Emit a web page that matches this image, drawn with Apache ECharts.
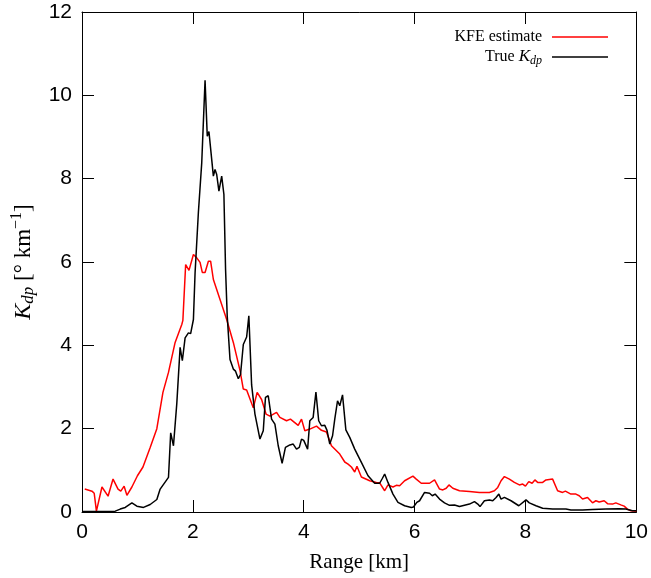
<!DOCTYPE html>
<html>
<head>
<meta charset="utf-8">
<script src="https://cdn.jsdelivr.net/npm/echarts@6/dist/echarts.min.js"></script>
<style>html,body{margin:0;padding:0;background:#fff}#c{width:651px;height:578px}</style>
</head>
<body>
<div id="c"></div>
<script>
var xTicks = [0, 2, 4, 6, 8, 10];
var yTicks = [0, 2, 4, 6, 8, 10, 12];

var kfeRange = [0.05,0.18,0.22,0.26,0.36,0.47,0.56,0.65,0.70,0.76,0.81,0.9,1.0,1.1,1.23,1.35,1.46,1.56,1.68,1.80,1.82,1.87,1.93,2.01,2.07,2.13,2.17,2.22,2.28,2.32,2.37,2.49,2.61,2.73,2.85,2.91,2.97,3.09,3.16,3.24,3.32,3.39,3.51,3.57,3.69,3.76,3.90,3.96,4.02,4.11,4.23,4.32,4.41,4.50,4.65,4.74,4.80,4.86,4.92,4.96,5.04,5.19,5.31,5.37,5.46,5.52,5.61,5.67,5.73,5.82,5.97,6.03,6.12,6.27,6.36,6.45,6.51,6.57,6.62,6.69,6.81,6.99,7.17,7.35,7.44,7.50,7.56,7.62,7.71,7.80,7.89,7.95,8.0,8.06,8.12,8.17,8.22,8.31,8.37,8.49,8.58,8.67,8.72,8.82,8.91,8.97,9.03,9.12,9.21,9.27,9.33,9.42,9.48,9.57,9.63,9.72,9.78,9.84,9.90,10.0];
var kfeValues = [0.55,0.5,0.45,0.02,0.6,0.38,0.79,0.55,0.5,0.62,0.4,0.6,0.87,1.08,1.55,2.0,2.87,3.35,4.07,4.5,4.6,5.94,5.8,6.18,6.1,5.99,5.75,5.75,6.02,6.02,5.58,5.1,4.62,4.07,3.4,2.95,2.93,2.5,2.87,2.7,2.35,2.3,2.39,2.27,2.19,2.23,2.08,2.23,1.95,1.99,2.06,1.96,1.92,1.59,1.39,1.2,1.15,1.08,0.96,1.1,0.84,0.75,0.71,0.7,0.51,0.65,0.6,0.64,0.63,0.75,0.86,0.79,0.69,0.69,0.77,0.55,0.53,0.57,0.65,0.57,0.51,0.49,0.47,0.47,0.51,0.59,0.75,0.85,0.79,0.71,0.65,0.67,0.62,0.73,0.69,0.77,0.71,0.71,0.77,0.79,0.51,0.47,0.5,0.43,0.43,0.39,0.31,0.35,0.22,0.27,0.24,0.27,0.2,0.19,0.22,0.17,0.14,0.07,0.03,0.02];

var trueRange = [0.0,0.36,0.6,0.69,0.78,0.9,0.99,1.11,1.23,1.35,1.41,1.56,1.60,1.65,1.71,1.77,1.81,1.86,1.92,1.96,2.01,2.04,2.10,2.16,2.22,2.26,2.29,2.32,2.37,2.40,2.43,2.47,2.52,2.56,2.59,2.62,2.67,2.73,2.77,2.82,2.86,2.91,2.97,3.01,3.06,3.12,3.21,3.27,3.31,3.36,3.42,3.48,3.54,3.61,3.67,3.75,3.81,3.87,3.92,3.96,4.0,4.07,4.11,4.17,4.22,4.27,4.32,4.38,4.42,4.47,4.52,4.56,4.61,4.65,4.70,4.76,4.83,4.92,5.04,5.16,5.28,5.37,5.42,5.46,5.52,5.61,5.70,5.82,5.94,5.98,6.04,6.09,6.18,6.27,6.32,6.37,6.45,6.54,6.63,6.72,6.81,6.90,6.99,7.08,7.14,7.18,7.26,7.35,7.41,7.47,7.52,7.56,7.62,7.74,7.88,8.01,8.07,8.19,8.31,8.49,8.73,8.82,9.03,9.21,9.45,9.69,9.81,9.93,10.0];
var trueValues = [0.01,0.01,0.02,0.07,0.11,0.22,0.14,0.11,0.18,0.3,0.55,0.83,1.9,1.59,2.6,3.95,3.63,4.18,4.3,4.28,4.62,5.74,7.2,8.38,10.36,9.02,9.13,9.1,8.06,8.22,8.1,7.7,8.06,7.62,5.82,4.7,3.66,3.43,3.38,3.2,3.3,4.02,4.2,4.71,3.05,2.35,1.75,1.95,2.75,2.79,2.23,2.11,1.59,1.17,1.55,1.61,1.63,1.51,1.55,1.75,1.72,1.51,2.19,2.27,2.88,2.19,2.07,2.08,1.96,1.63,1.83,2.23,2.67,2.55,2.81,1.97,1.79,1.51,1.19,0.87,0.69,0.69,0.81,0.91,0.71,0.43,0.23,0.15,0.11,0.12,0.23,0.27,0.47,0.45,0.39,0.43,0.31,0.22,0.16,0.17,0.13,0.16,0.19,0.25,0.19,0.13,0.27,0.29,0.27,0.35,0.43,0.31,0.35,0.27,0.15,0.29,0.22,0.15,0.09,0.07,0.07,0.05,0.05,0.06,0.07,0.08,0.07,0.03,0.03];

function pairs(xs, ys) { return xs.map(function (x, i) { return [x, ys[i]]; }); }

var serif = 'Liberation Serif';
var sans = 'Liberation Sans';

var chart = echarts.init(document.getElementById('c'), null, {renderer: 'canvas'});

function axisBase(extra) {
  var o = {
    type: 'value',
    axisLine: {show: true, onZero: false, lineStyle: {color: '#000', width: 1}},
    axisTick: {show: true, inside: true, length: 12, lineStyle: {color: '#000', width: 1}},
    splitLine: {show: false},
    axisLabel: {show: true, color: '#000', fontFamily: sans, fontSize: 21, margin: 10}
  };
  for (var k in extra) o[k] = extra[k];
  return o;
}

var option = {
  animation: false,
  backgroundColor: '#fff',
  grid: {left: 82, right: 14, top: 12, bottom: 65, containLabel: false},
  xAxis: [
    axisBase({min: xTicks[0], max: xTicks[xTicks.length - 1], interval: 2, position: 'bottom',
      name: 'Range [km]', nameLocation: 'middle', nameGap: 40,
      nameTextStyle: {fontFamily: serif, fontSize: 21, color: '#000'}}),
    axisBase({min: xTicks[0], max: xTicks[xTicks.length - 1], interval: 2, position: 'top',
      axisLabel: {show: false}})
  ],
  yAxis: [
    axisBase({min: yTicks[0], max: yTicks[yTicks.length - 1], interval: 2, position: 'left',
      name: '{k|K}{s|dp}{t| [° km}{p|−1}{t|]}', nameLocation: 'middle', nameGap: 44, nameRotate: 90,
      nameTextStyle: {
        color: '#000', fontFamily: serif, fontSize: 23,
        rich: {
          k: {fontFamily: serif, fontStyle: 'italic', fontSize: 24, color: '#000'},
          s: {fontFamily: serif, fontStyle: 'italic', fontSize: 17, color: '#000', padding: [11, 0, 0, 0]},
          t: {fontFamily: serif, fontSize: 23, color: '#000'},
          p: {fontFamily: serif, fontSize: 16, color: '#000', padding: [0, 0, 13, 0]}
        }
      }}),
    axisBase({min: yTicks[0], max: yTicks[yTicks.length - 1], interval: 2, position: 'right',
      axisLabel: {show: false}})
  ],
  legend: [
    {
      data: ['KFE estimate'], right: 38, top: 22, align: 'right', orient: 'vertical',
      icon: 'rect', itemWidth: 56, itemHeight: 1.5,
      textStyle: {fontFamily: serif, fontSize: 16, color: '#000', lineHeight: 20, padding: [0, 5, 0, 0]}
    },
    {
      data: ['True Kdp'], right: 38, top: 42, align: 'right', orient: 'vertical',
      icon: 'rect', itemWidth: 56, itemHeight: 1.5,
      formatter: function () { return '{r|True }{k|K}{s|dp}'; },
      textStyle: {
        fontFamily: serif, fontSize: 16, color: '#000', lineHeight: 20, padding: [0, 5, 0, 0],
        rich: {
          r: {fontFamily: serif, fontSize: 16, color: '#000'},
          k: {fontFamily: serif, fontStyle: 'italic', fontSize: 17, color: '#000'},
          s: {fontFamily: serif, fontStyle: 'italic', fontSize: 12, color: '#000', padding: [7, 0, 0, 0]}
        }
      }
    }
  ],
  series: [
    {
      name: 'KFE estimate', type: 'line', xAxisIndex: 0, yAxisIndex: 0,
      data: pairs(kfeRange, kfeValues), showSymbol: false, symbol: 'none',
      lineStyle: {color: '#ff0000', width: 1.5}, itemStyle: {color: '#ff0000'}, z: 3
    },
    {
      name: 'True Kdp', type: 'line', xAxisIndex: 0, yAxisIndex: 0,
      data: pairs(trueRange, trueValues), showSymbol: false, symbol: 'none',
      lineStyle: {color: '#000000', width: 1.5}, itemStyle: {color: '#000000'}, z: 4
    }
  ]
};
chart.setOption(option);
</script>
</body>
</html>
